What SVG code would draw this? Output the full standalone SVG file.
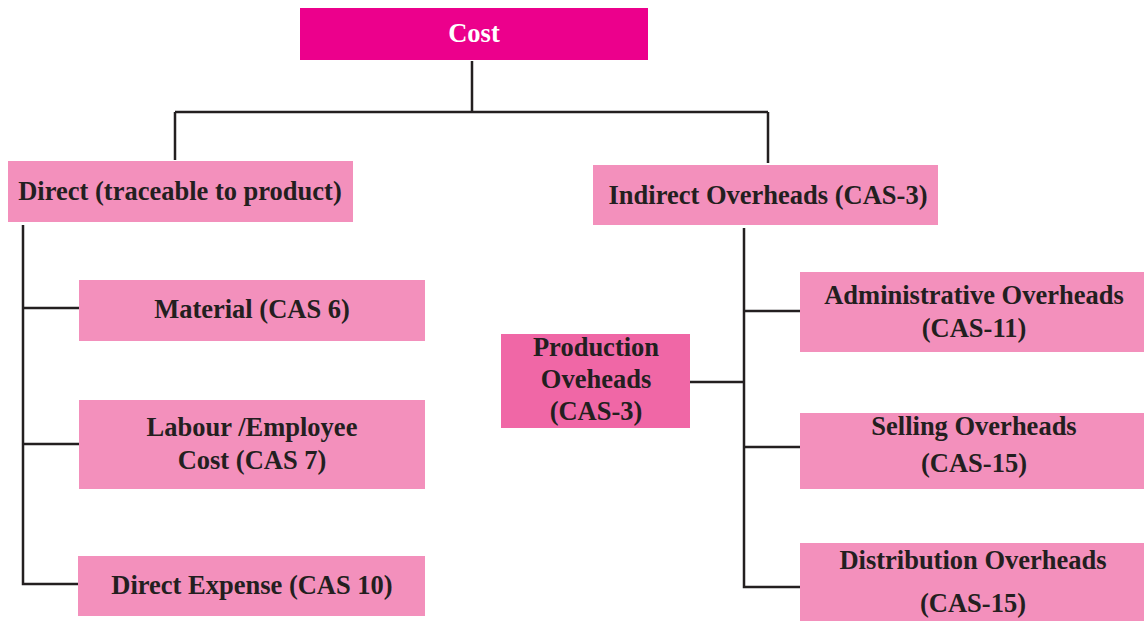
<svg xmlns="http://www.w3.org/2000/svg" width="1144" height="621" viewBox="0 0 1144 621">
<style>
.box{fill:#F390BC}
.prod{fill:#F067A6}
.top{fill:#EC008C}
.t{font-family:"Liberation Serif","Times New Roman",serif;font-weight:bold;font-size:26.5px;fill:#231F20;text-anchor:middle}
.w{fill:#FFFFFF}
.c{stroke:#231F20;stroke-width:2.5;fill:none}
</style>
<rect width="1144" height="621" fill="#FFFFFF"/>
<g id="connectors">
<path class="c" d="M472 61V112M175 112H768M175 112V160M768 112V163"/>
<path class="c" d="M23 225V584H78M23 308H79M23 444H79"/>
<path class="c" d="M744 228V587H800M744 311H800M744 447H800M690 382H744"/>
</g>
<g id="cost">
<rect class="top" x="300" y="8" width="348" height="52"/>
<text class="t w" x="474" y="42">Cost</text>
</g>
<g id="direct">
<rect class="box" x="8" y="161" width="345" height="61"/>
<text class="t" x="180" y="200">Direct (traceable to product)</text>
</g>
<g id="indirect">
<rect class="box" x="593" y="165" width="345" height="60"/>
<text class="t" x="768" y="204">Indirect Overheads (CAS-3)</text>
</g>
<g id="material">
<rect class="box" x="79" y="280" width="346" height="61"/>
<text class="t" x="252" y="318">Material (CAS 6)</text>
</g>
<g id="labour">
<rect class="box" x="79" y="400" width="346" height="89"/>
<text class="t" x="252" y="436">Labour /Employee</text>
<text class="t" x="252" y="469">Cost (CAS 7)</text>
</g>
<g id="directexpense">
<rect class="box" x="78" y="556" width="347" height="60"/>
<text class="t" x="252" y="594">Direct Expense (CAS 10)</text>
</g>
<g id="production">
<rect class="prod" x="501" y="334" width="189" height="94"/>
<text class="t" x="596" y="356">Production</text>
<text class="t" x="596" y="388">Oveheads</text>
<text class="t" x="596" y="420">(CAS-3)</text>
</g>
<g id="admin">
<rect class="box" x="800" y="272" width="344" height="80"/>
<text class="t" x="974" y="304">Administrative Overheads</text>
<text class="t" x="974" y="337">(CAS-11)</text>
</g>
<g id="selling">
<rect class="box" x="800" y="413" width="344" height="76"/>
<text class="t" x="974" y="435">Selling Overheads</text>
<text class="t" x="974" y="472">(CAS-15)</text>
</g>
<g id="distribution">
<rect class="box" x="800" y="543" width="344" height="78"/>
<text class="t" x="973" y="569">Distribution Overheads</text>
<text class="t" x="973" y="612">(CAS-15)</text>
</g>
</svg>
